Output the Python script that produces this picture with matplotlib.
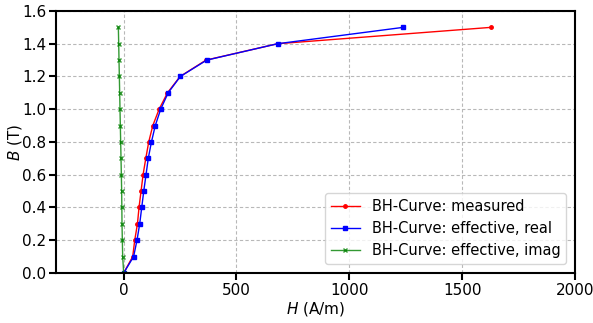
import matplotlib
matplotlib.use("Agg")
import matplotlib.pyplot as plt

B = [0.0, 0.1, 0.2, 0.3, 0.4, 0.5, 0.6, 0.7, 0.8, 0.9, 1.0, 1.1, 1.2, 1.3, 1.4, 1.5]
H_measured = [0, 40, 49, 61, 68, 77, 86, 98, 111, 129, 157, 194, 250, 365, 682, 1628]
H_eff_real = [0, 44, 59, 71, 80, 89, 99, 109, 123, 140, 164, 197, 251, 368, 682, 1239]
H_eff_imag = [0, -4.4, -5.9, -7.4, -8.1, -8.9, -10.3, -11.8, -13.3, -14.8, -16.3, -17.7, -19.2, -20.7, -22.0, -23.6]

fig = plt.figure(figsize=(5.93, 3.23), dpi=100)
ax = fig.add_axes([0.0944, 0.1548, 0.8752, 0.8112])

ax.plot(H_measured, B, color="red", marker=".", markersize=5, linewidth=1, label="BH-Curve: measured")
ax.plot(H_eff_real, B, color="blue", marker="s", markersize=3.5, linewidth=1, label="BH-Curve: effective, real")
ax.plot(H_eff_imag, B, color="green", marker="x", markersize=3, linewidth=1, alpha=0.8, label="BH-Curve: effective, imag")

ax.set_xlim(-300, 2000)
ax.set_ylim(0, 1.6)
ax.set_xticks([0, 500, 1000, 1500, 2000])
ax.set_yticks([0.0, 0.2, 0.4, 0.6, 0.8, 1.0, 1.2, 1.4, 1.6])
ax.set_xlabel(r"$H$ (A/m)", fontsize=11, labelpad=2)
ax.set_ylabel(r"$B$ (T)", fontsize=11, va="center")
ax.yaxis.set_label_coords(-0.079, 0.5)
ax.tick_params(labelsize=11, length=5, width=1.5, pad=2)
for s in ax.spines.values():
    s.set_linewidth(1.5)
ax.grid(True, linestyle=(0, (3, 2)), color="#b8b8b8", linewidth=0.8)
ax.legend(loc="lower right", fontsize=10.5, borderaxespad=0.6)

fig.savefig("out.png", dpi=100)
